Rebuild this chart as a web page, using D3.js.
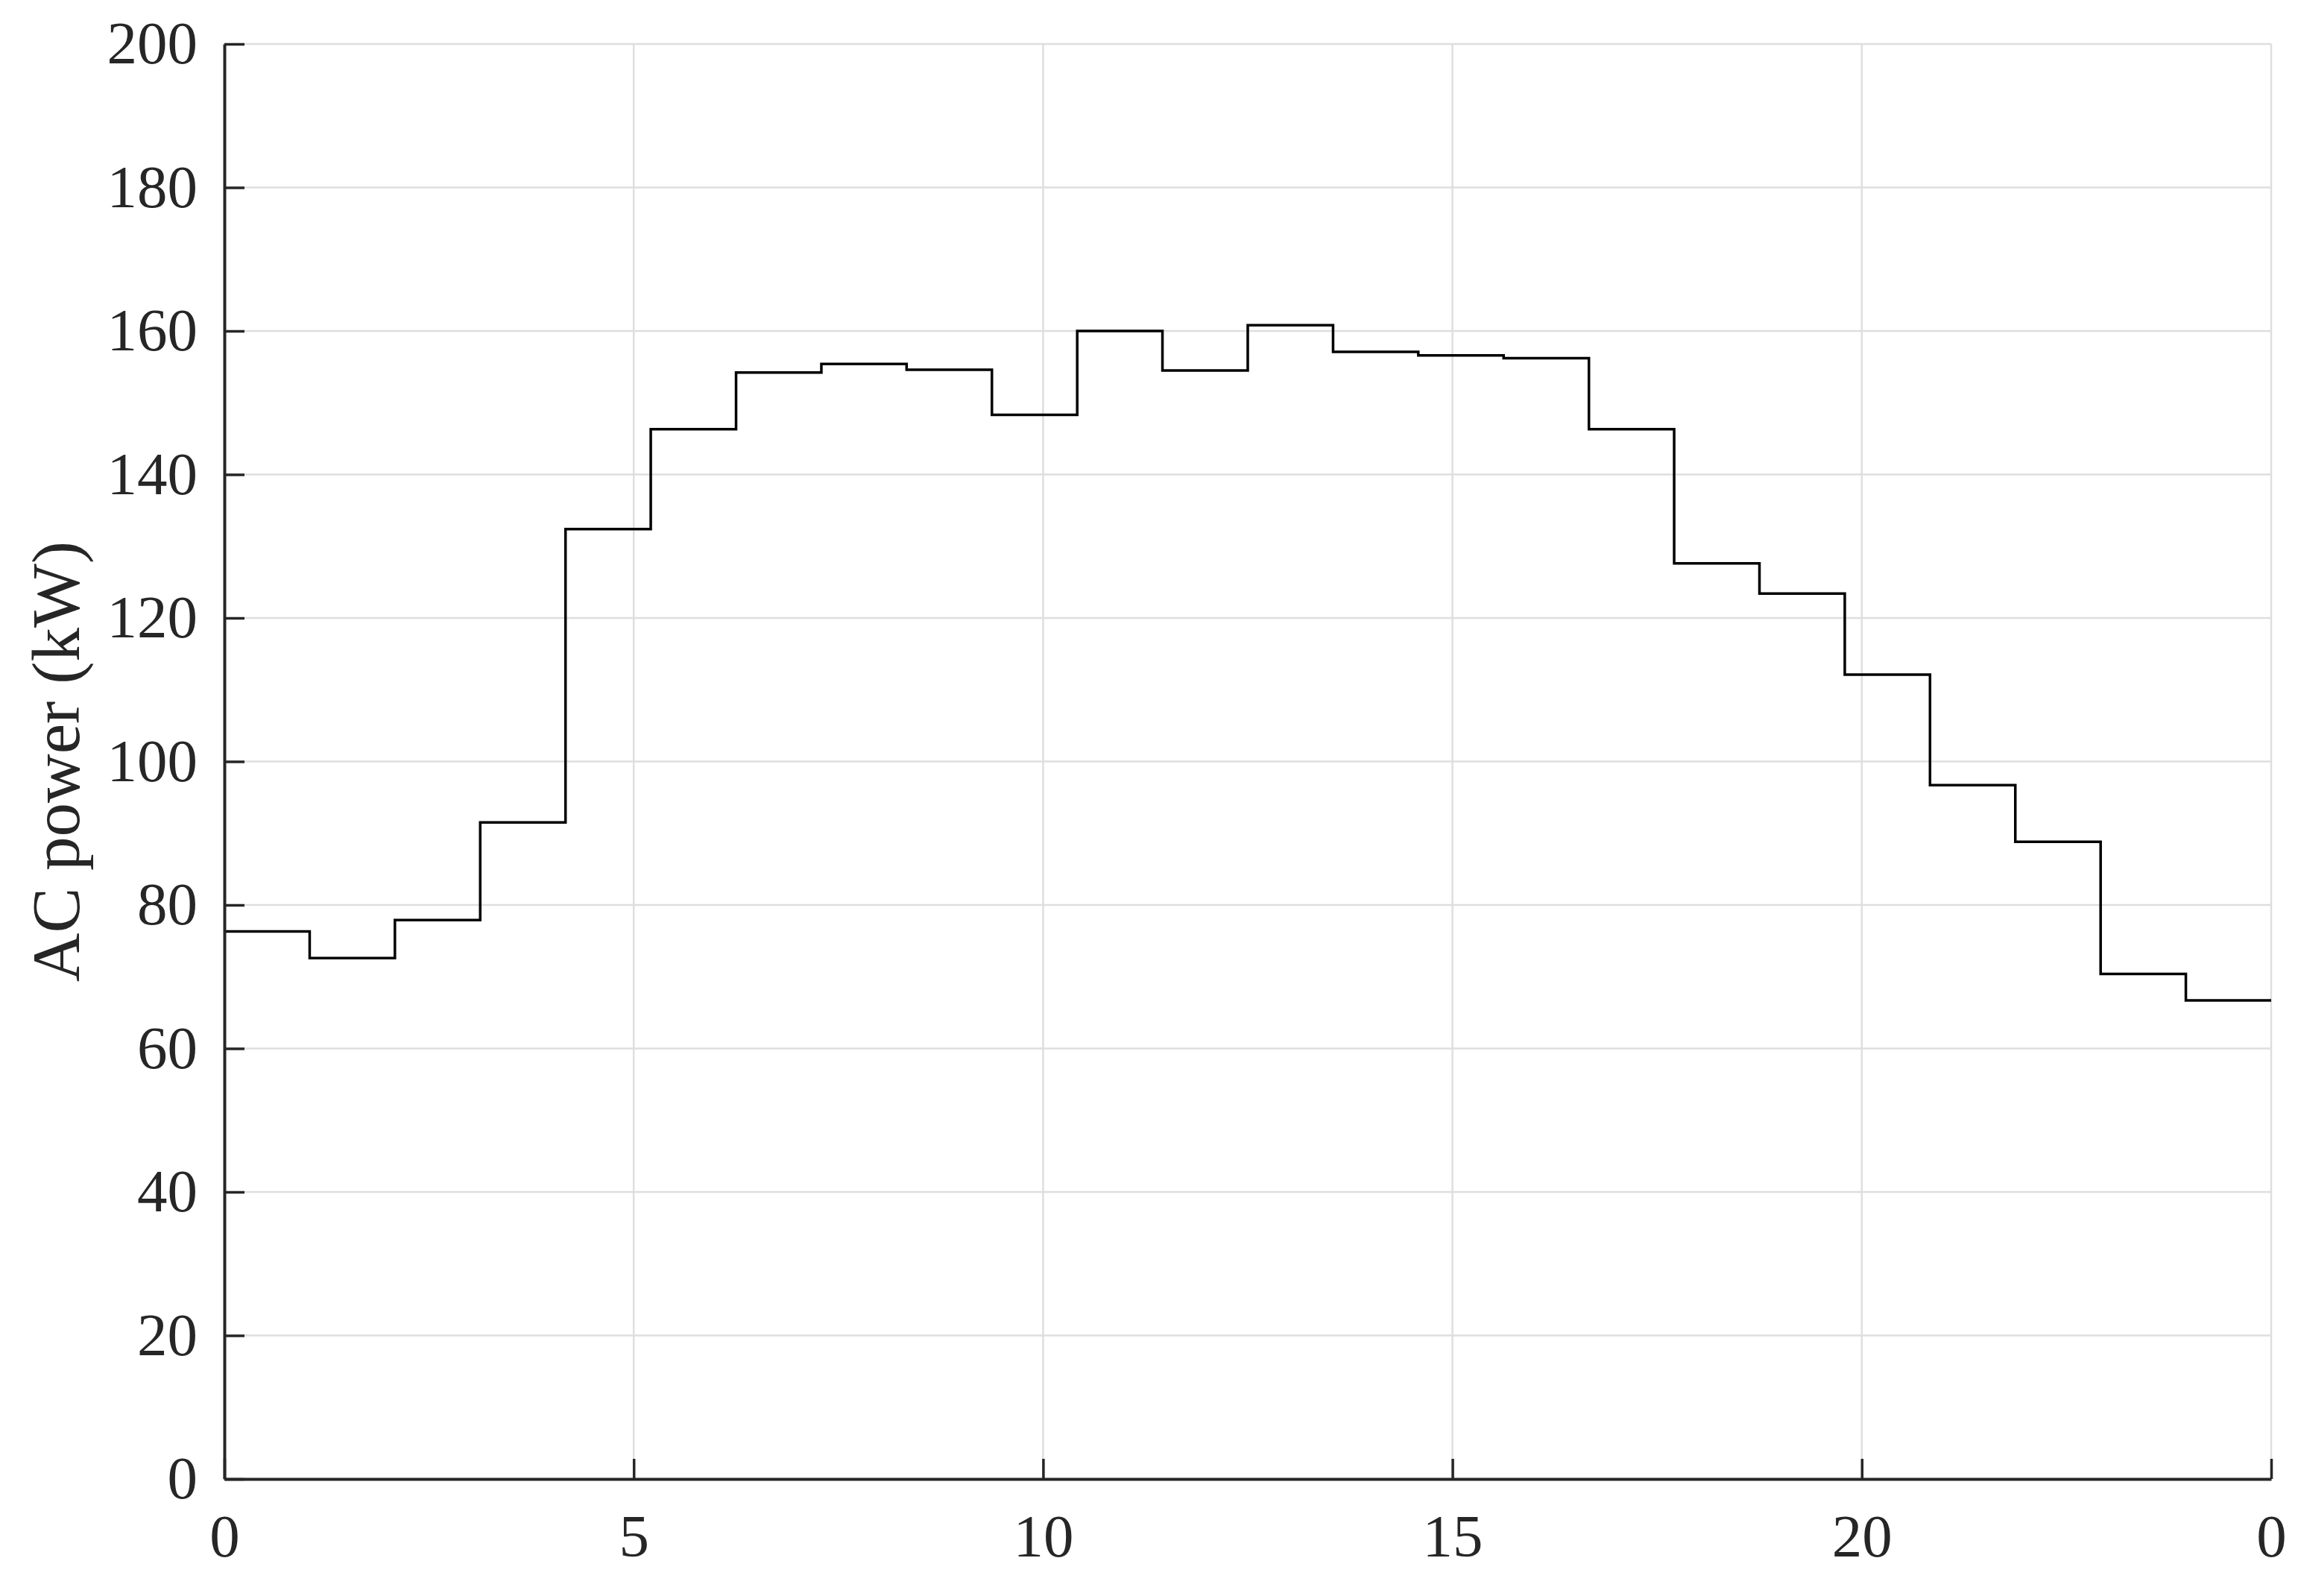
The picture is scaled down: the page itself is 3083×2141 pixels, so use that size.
<!DOCTYPE html>
<html>
<head>
<meta charset="utf-8">
<script src="https://cdn.jsdelivr.net/npm/d3@7"></script>
<style>
  body { margin: 0; background: #fff; }
  svg { display: block; }
</style>
</head>
<body>
<div id="chart"></div>
<script>
// step start positions (last entry is where the final step ends)
var stepStarts = [0, 1.042, 2.083, 3.125, 4.167, 5.208, 6.25, 7.292, 8.333, 9.375,
    10.417, 11.458, 12.5, 13.542, 14.583, 15.625, 16.667, 17.708, 18.75, 19.792,
    20.833, 21.875, 22.917, 23.958, 25];
// AC power (kW) per step
var acPower = [76.3, 72.6, 77.9, 91.5, 132.4, 146.3, 154.2, 155.4, 154.6, 148.3,
    160.0, 154.5, 160.8, 157.1, 156.6, 156.2, 146.3, 127.6, 123.4, 112.1,
    96.7, 88.8, 70.4, 66.7];
var xTicks = [0, 5, 10, 15, 20, 25];
var xTickLabels = ["0", "5", "10", "15", "20", "0"];
var yTicks = [0, 20, 40, 60, 80, 100, 120, 140, 160, 180, 200];
var yLabel = "AC power (kW)";

var width = 3083,
    height = 2141,
    margin = {top: 59, right: 36, bottom: 157, left: 301};

var svg = d3.select("#chart")
    .append("svg")
    .attr("width", width)
    .attr("height", height);

var x = d3.scaleLinear().domain([0, 25]).range([margin.left, width - margin.right]);
var y = d3.scaleLinear().domain([0, 200]).range([height - margin.bottom, margin.top]);

// grid
svg.append("g")
    .selectAll("line.gx")
    .data(xTicks.slice(1))
    .enter()
    .append("line")
    .attr("x1", function(d) { return x(d); })
    .attr("x2", function(d) { return x(d); })
    .attr("y1", y(0))
    .attr("y2", y(200))
    .style("stroke", "#dedede")
    .style("stroke-width", 2.5);

svg.append("g")
    .selectAll("line.gy")
    .data(yTicks.slice(1))
    .enter()
    .append("line")
    .attr("x1", x(0))
    .attr("x2", x(25))
    .attr("y1", function(d) { return y(d); })
    .attr("y2", function(d) { return y(d); })
    .style("stroke", "#dedede")
    .style("stroke-width", 2.5);

// step line
var points = acPower.map(function(v, i) { return [stepStarts[i], v]; });
points.push([stepStarts[stepStarts.length - 1], acPower[acPower.length - 1]]);

var line = d3.line()
    .x(function(d) { return x(d[0]); })
    .y(function(d) { return y(d[1]); })
    .curve(d3.curveStepAfter);

svg.append("path")
    .datum(points)
    .attr("d", line)
    .style("fill", "none")
    .style("stroke", "#000")
    .style("stroke-width", 3.5);

// axes
var xAxis = d3.axisBottom(x)
    .tickValues(xTicks)
    .tickFormat(function(d, i) { return xTickLabels[i]; })
    .tickSizeInner(-27)
    .tickSizeOuter(0)
    .tickPadding(46);

var yAxis = d3.axisLeft(y)
    .tickValues(yTicks)
    .tickSizeInner(-27)
    .tickSizeOuter(0)
    .tickPadding(36);

var gx = svg.append("g")
    .attr("transform", "translate(0," + y(0) + ")")
    .call(xAxis);

var gy = svg.append("g")
    .attr("transform", "translate(" + x(0) + ",0)")
    .call(yAxis);

[gx, gy].forEach(function(g) {
    g.select(".domain").style("stroke", "#262626").style("stroke-width", 4);
    g.selectAll(".tick line").style("stroke", "#262626").style("stroke-width", 3.5);
    g.selectAll(".tick text")
        .style("font-family", "'Liberation Serif', 'Times New Roman', serif")
        .style("font-size", "81px")
        .style("fill", "#262626");
});

svg.append("text")
    .attr("transform", "translate(106," + ((y(0) + y(200)) / 2) + ") rotate(-90)")
    .attr("text-anchor", "middle")
    .style("font-family", "'Liberation Serif', 'Times New Roman', serif")
    .style("font-size", "91px")
    .style("fill", "#262626")
    .text(yLabel);
</script>
</body>
</html>
